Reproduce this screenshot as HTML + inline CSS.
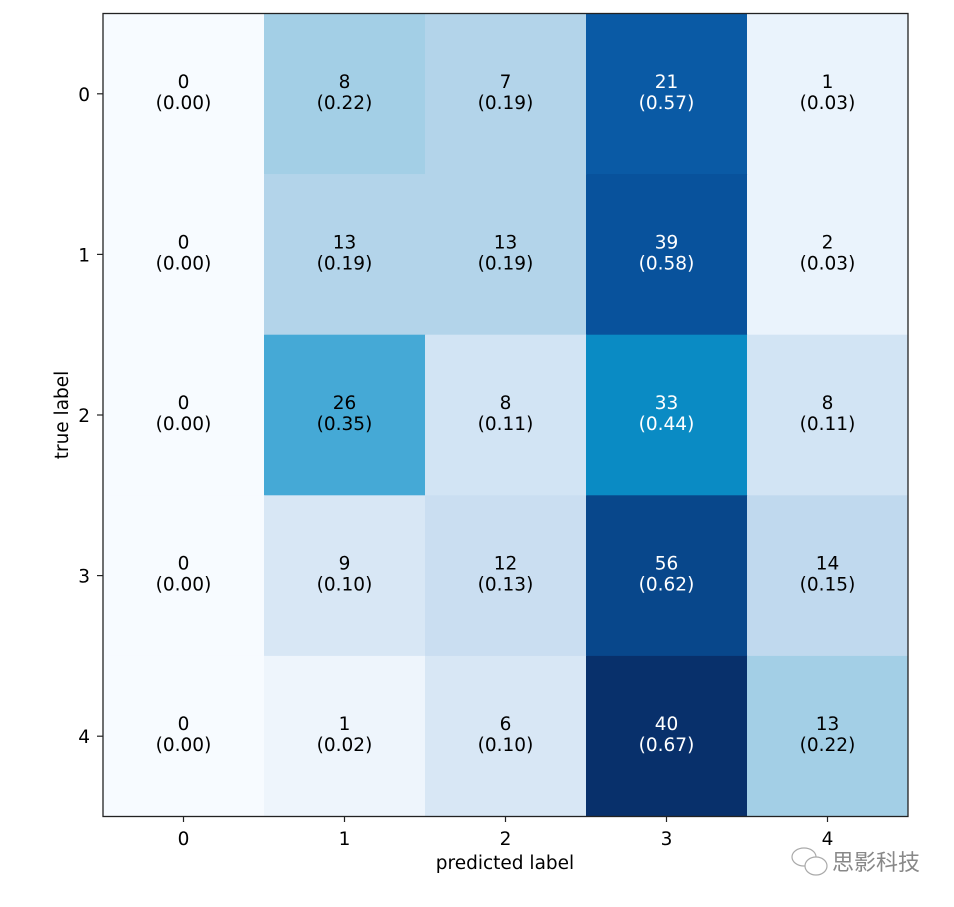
<!DOCTYPE html>
<html><head><meta charset="utf-8"><style>
body{margin:0;background:#fff;width:954px;height:902px;overflow:hidden}
text{font-family:"DejaVu Sans","Liberation Sans",sans-serif;font-size:18.5px}
</style></head><body>
<svg width="954" height="902" xmlns="http://www.w3.org/2000/svg">
<g id="cells"></g>
<rect x="103" y="13.5" width="805" height="803" fill="none" stroke="#222" stroke-width="1.3"/>
<g id="ticks" stroke="#222" stroke-width="1.2"></g>
<g id="lbl"></g>
<text x="505" y="869" text-anchor="middle">predicted label</text>
<text transform="translate(68,415) rotate(-90)" text-anchor="middle">true label</text>
<g transform="translate(790,847)" fill="none" stroke="#aaa" stroke-width="1.2">
<ellipse cx="14" cy="10" rx="12" ry="9"/><ellipse cx="26" cy="19" rx="11" ry="9" fill="#fff"/>
</g>
<text x="832" y="870" fill="#888" style="font-family:'Noto Sans CJK SC',sans-serif;font-size:22px">思影科技</text>
</svg>
<script>
var d=[[0,8,7,21,1],[0,13,13,39,2],[0,26,8,33,8],[0,9,12,56,14],[0,1,6,40,13]];
var c=[["#f7fbff","#a3cfe6","#b3d4ea","#0a5aa5","#eaf3fc"],
["#f7fbff","#b3d4ea","#b3d4ea","#08529c","#eaf3fc"],
["#f7fbff","#45a9d6","#d2e4f4","#0a8bc4","#d2e4f4"],
["#f7fbff","#d8e7f5","#cadef1","#08478b","#c0d9ee"],
["#f7fbff","#eef5fc","#d8e7f5","#08306b","#a3cfe6"]];
var ns="http://www.w3.org/2000/svg",cells=document.getElementById('cells'),lbl=document.getElementById('lbl'),tk=document.getElementById('ticks');
function el(t,a,p,txt){var e=document.createElementNS(ns,t);for(var k in a)e.setAttribute(k,a[k]);if(txt!=null)e.textContent=txt;p.appendChild(e);return e;}
var x0=103,y0=13.5,w=161,h=160.6;
for(var r=0;r<5;r++){var s=d[r].reduce((a,b)=>a+b,0);
for(var j=0;j<5;j++){var x=x0+j*w,y=y0+r*h;
el('rect',{x:x,y:y,width:w+0.5,height:h+0.5,fill:c[r][j]},cells);
var f=d[r][j]/s,col=f>0.4?"#fff":"#000",cx=x+w/2,cy=y+h/2;
el('text',{x:cx,y:cy-6,'text-anchor':'middle',fill:col},lbl,d[r][j]);
el('text',{x:cx,y:cy+15,'text-anchor':'middle',fill:col},lbl,'('+f.toFixed(2)+')');}}
for(var i=0;i<5;i++){var cx=x0+i*w+w/2,cy=y0+i*h+h/2;
el('line',{x1:cx,y1:816.5,x2:cx,y2:822},tk);el('line',{x1:97,y1:cy,x2:103,y2:cy},tk);
el('text',{x:cx,y:845,'text-anchor':'middle'},lbl,i);el('text',{x:90,y:cy+7,'text-anchor':'end'},lbl,i);}
</script>
</body></html>
